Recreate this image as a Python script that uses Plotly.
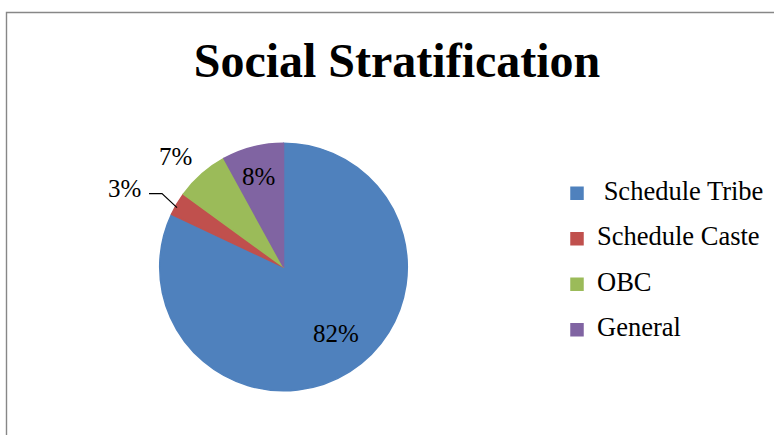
import math
import plotly.graph_objects as go

# ---- data ----
categories = ["Schedule Tribe", "Schedule Caste", "OBC", "General"]
values = [82, 3, 7, 8]
legend_names = ["\u00a0Schedule Tribe", "Schedule Caste", "OBC", "General"]
colors = ["#4F81BD", "#C0504D", "#9BBB59", "#8064A2"]
title_text = "Social Stratification"

W, H = 774, 435
FONT = "Liberation Serif, Times New Roman, serif"

# pie geometry (pixels)
cx, cy, R = 283.5, 267.0, 123.8


def px(x):
    return x / W


def py(y):
    return 1 - y / H


fig = go.Figure()
fig.add_trace(go.Pie(
    labels=[f'<span style="font-size:26.5px">{n}</span><br>\u00a0' for n in legend_names],
    values=values,
    sort=False,
    direction="clockwise",
    rotation=0,
    marker=dict(colors=colors, line=dict(color=colors, width=1.5)),
    textinfo="none",
    hoverinfo="label+percent",
    domain=dict(x=[px(cx - R), px(cx + R)], y=[py(cy + R), py(cy - R)]),
    showlegend=True,
))

# percentage labels, placed along each slice's mid-angle
total = sum(values)
cum = 0
mids = []
for v in values:
    mids.append((cum + v / 2) / total * 2 * math.pi)
    cum += v
label_radius = [0.655, 1.30, 1.24, 0.735]
label_shift = [(9, -2), (0, 0), (-6, 5), (-2, -2)]
annotations = []
for i, v in enumerate(values):
    a = mids[i]
    r = label_radius[i] * R
    x = cx + r * math.sin(a) + label_shift[i][0]
    y = cy - r * math.cos(a) + label_shift[i][1]
    if i == 1:
        # leader line from slice edge
        ex = cx + R * 0.99 * math.sin(a)
        ey = cy - R * 0.99 * math.cos(a)
        fig.add_shape(type="path",
                      path=(f"M {px(ex - 1)},{py(ey + 3)} L {px(ex - 16)},{py(ey - 11)} "
                            f"L {px(ex - 29)},{py(ey - 11)}"),
                      xref="paper", yref="paper",
                      line=dict(color="black", width=1.2))
        x = ex - 53.5
        y = ey - 15.7
    annotations.append(dict(
        x=px(x), y=py(y), xref="paper", yref="paper",
        text=f"{v}%", showarrow=False,
        font=dict(family=FONT, size=25, color="black"),
        xanchor="center", yanchor="middle",
    ))

# outer border
fig.add_shape(type="rect", xref="paper", yref="paper",
              x0=px(6.5), x1=1.05, y0=-0.05, y1=py(12.5),
              line=dict(color="#878787", width=1.4), fillcolor="rgba(0,0,0,0)",
              layer="below")

fig.update_layout(
    width=W, height=H,
    margin=dict(l=0, r=0, t=0, b=0),
    paper_bgcolor="white",
    plot_bgcolor="white",
    title=dict(text=f"<b>{title_text}</b>", x=px(397), xanchor="center",
               y=py(60), yanchor="middle",
               font=dict(family=FONT, size=48, color="black")),
    annotations=annotations,
    legend=dict(
        x=px(557), y=py(176), xanchor="left", yanchor="top",
        font=dict(family=FONT, size=16.35, color="black"),
        valign="top",
        bgcolor="rgba(0,0,0,0)",
        itemclick=False,
    ),
    showlegend=True,
)

fig.write_html("out.html")
